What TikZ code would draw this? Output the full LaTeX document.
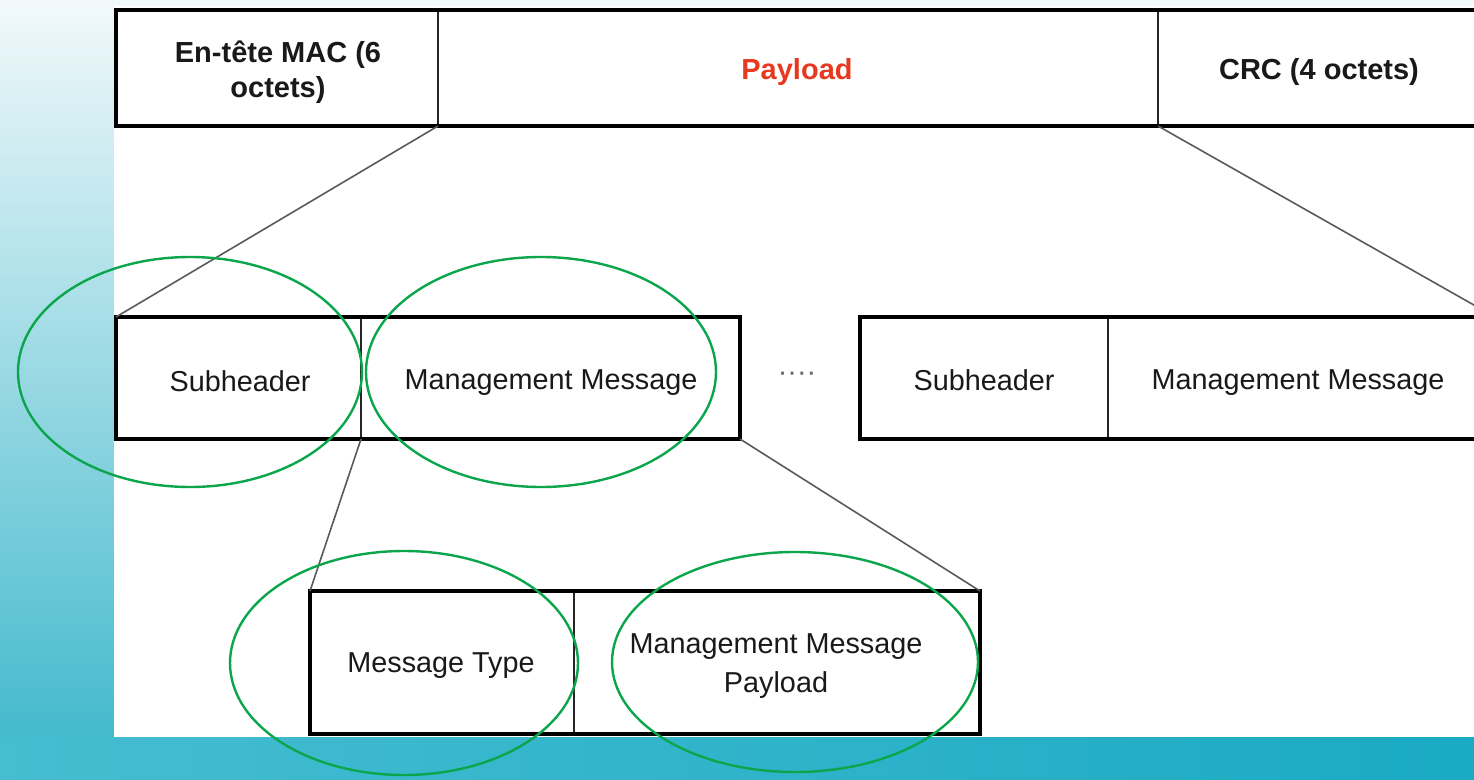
\documentclass[tikz,border=0pt]{standalone}
\usepackage{fontspec}
\setmainfont{Liberation Sans}
\definecolor{bgtop}{HTML}{F2F9FB}
\definecolor{bgbot}{HTML}{3AB6CA}
\definecolor{bandl}{HTML}{46BDD1}
\definecolor{bandr}{HTML}{1AAAC3}
\definecolor{ringgreen}{HTML}{0BA64C}
\definecolor{payred}{HTML}{E8381F}
\definecolor{linkgray}{HTML}{5A5A5A}
\tikzset{
  cell/.style={draw=black!85, line width=1.6pt, inner sep=0pt, outer sep=0pt, anchor=north west},
  frame/.style={draw=black, line width=4.6pt},
  link/.style={draw=linkgray, line width=1.6pt},
  ring/.style={draw=ringgreen, line width=2.4pt},
  lbl/.style={inner sep=0pt, align=center, text=black!90},
  toptxt/.style={lbl, font=\fontsize{29}{35}\selectfont\bfseries},
  midtxt/.style={lbl, font=\fontsize{28.8}{39}\selectfont}
}
\begin{document}
\begin{tikzpicture}[x=1pt,y=-1pt]
\useasboundingbox (0,0) rectangle (1474,779);
\clip (0,0) rectangle (1474,779);
% background
\shade[top color=bgtop, bottom color=bgbot] (0,0) rectangle (1474,779);
\fill[white] (114,6) rectangle (1474,737);
\shade[left color=bandl, right color=bandr] (0,737) rectangle (1474,779);
% top row
\node[cell, minimum width=322pt, minimum height=116pt] (mac) at (116,10) {};
\node[cell, minimum width=720pt, minimum height=116pt] (pay) at (438,10) {};
\node[cell, minimum width=337pt, minimum height=116pt] (crc) at (1158,10) {};
\draw[frame] (mac.north west) rectangle (crc.south east);
\node[toptxt] (macT) at (278,72) {En-tête MAC (6\\octets)};
\node[toptxt, text=payred] (payT) at (797,72) {Payload};
\node[toptxt] (crcT) at (1319,72) {CRC (4 octets)};
% middle row, first group
\node[cell, minimum width=245pt, minimum height=122pt] (sub1) at (116,317) {};
\node[cell, minimum width=379pt, minimum height=122pt] (mm1) at (361,317) {};
\draw[frame] (sub1.north west) rectangle (mm1.south east);
\node[midtxt] (sub1T) at (240,381) {Subheader};
\node[midtxt] (mm1T) at (551,383) {Management Message};
\node[midtxt, text=black!60] (dots) at (797,377) {····};
% middle row, second group
\node[cell, minimum width=248pt, minimum height=122pt] (sub2) at (860,317) {};
\node[cell, minimum width=387pt, minimum height=122pt] (mm2) at (1108,317) {};
\draw[frame] (sub2.north west) rectangle (mm2.south east);
\node[midtxt] (sub2T) at (984,380) {Subheader};
\node[midtxt] (mm2T) at (1298,383) {Management Message};
% bottom row
\node[cell, minimum width=264pt, minimum height=143pt] (mt) at (310,591) {};
\node[cell, minimum width=406pt, minimum height=143pt] (mmp) at (574,591) {};
\draw[frame] (mt.north west) rectangle (mmp.south east);
\node[midtxt] (mtT) at (441,666) {Message Type};
\node[midtxt] (mmpT) at (776,666) {Management Message\\Payload};
% connectors
\draw[link] (pay.south west) -- (sub1.north west);
\draw[link] (crc.south west) -- (mm2.north east);
\draw[link] (sub1.south east) -- (mt.north west);
\draw[link] (mm1.south east) -- (mmp.north east);
% rings
\draw[ring] (190,372) ellipse [x radius=172, y radius=115];
\draw[ring] (541,372) ellipse [x radius=175, y radius=115];
\draw[ring] (404,663) ellipse [x radius=174, y radius=112];
\draw[ring] (795,662) ellipse [x radius=183, y radius=110];
\end{tikzpicture}
\end{document}
